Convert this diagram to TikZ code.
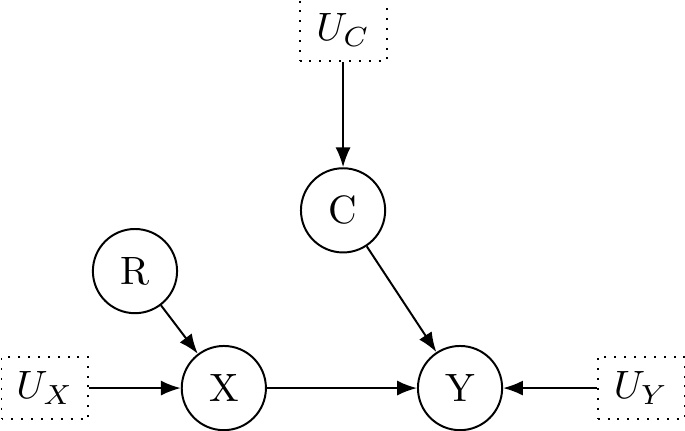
\documentclass[tikz,border=0pt]{standalone}
\usetikzlibrary{arrows.meta}
\begin{document}
\begin{tikzpicture}[>={Latex[length=5pt,width=3.8pt]},line width=0.5pt,
    var/.style={draw,circle,minimum size=21.3pt,inner sep=0pt},
    noise/.style={draw,dotted,minimum width=22pt,minimum height=15.7pt,inner sep=0pt}]
      \useasboundingbox (-1.99,-0.374) rectangle (4.10,3.45);
      \draw
        (0,0) node[var] (X){X}
        (2.10,0) node[var] (Y){Y}
        (1.06,1.58) node[var] (C){C}
        (-0.79,1.04) node[var] (R){R}
        (1.06,3.18) node[noise] (UC){$U_C$}
        (-1.59,0) node[noise] (UX){$U_X$}
        (3.71,0) node[noise] (UY){$U_Y$};
      \begin{scope}[->]
        \draw (UC) to (C);
        \draw (C) to (Y);
        \draw (R) to (X);
        \draw (UX) to (X);
        \draw (X) to (Y);
        \draw (UY) to (Y);
      \end{scope}
    \end{tikzpicture}
\end{document}
